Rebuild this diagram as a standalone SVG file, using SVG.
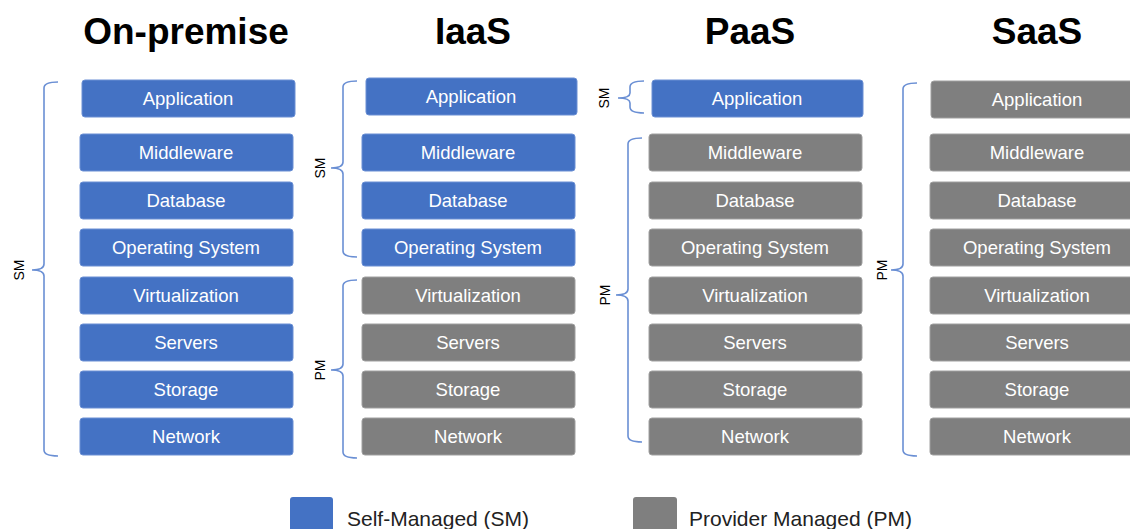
<svg xmlns="http://www.w3.org/2000/svg" width="1130" height="529" viewBox="0 0 1130 529">
<style>
.title{font-family:"Liberation Sans",Arial,sans-serif;font-weight:bold;font-size:37px;fill:#000;text-anchor:middle}
.sm rect{fill:#4472C4;stroke:#6A8FD4;stroke-width:1}
.pm rect{fill:#7F7F7F;stroke:#A0A0A0;stroke-width:1}
.lbl{font-family:"Liberation Sans",Arial,sans-serif;font-size:18.5px;fill:#fff;text-anchor:middle}
.brace{fill:none;stroke:#6A8FD4;stroke-width:1.6}
.blab{font-family:"Liberation Sans",Arial,sans-serif;font-size:14px;fill:#000;text-anchor:middle}
.leg{font-family:"Liberation Sans",Arial,sans-serif;font-size:21px;fill:#222}
</style>
<rect width="1130" height="529" fill="#fff"/>
<g id="titles">
<text class="title" x="186" y="44">On-premise</text>
<text class="title" x="473" y="44">IaaS</text>
<text class="title" x="750" y="44">PaaS</text>
<text class="title" x="1037" y="44">SaaS</text>
</g>
<g id="onprem">
<g id="op-app" class="sm"><rect x="82" y="80" width="213" height="37" rx="3"/><text class="lbl" x="188" y="105">Application</text></g>
<g id="op-mid" class="sm"><rect x="80" y="134" width="213" height="37" rx="3"/><text class="lbl" x="186" y="159">Middleware</text></g>
<g id="op-db" class="sm"><rect x="80" y="182" width="213" height="37" rx="3"/><text class="lbl" x="186" y="207">Database</text></g>
<g id="op-os" class="sm"><rect x="80" y="229" width="213" height="37" rx="3"/><text class="lbl" x="186" y="254">Operating System</text></g>
<g id="op-virt" class="sm"><rect x="80" y="277" width="213" height="37" rx="3"/><text class="lbl" x="186" y="302">Virtualization</text></g>
<g id="op-srv" class="sm"><rect x="80" y="324" width="213" height="37" rx="3"/><text class="lbl" x="186" y="349">Servers</text></g>
<g id="op-sto" class="sm"><rect x="80" y="371" width="213" height="37" rx="3"/><text class="lbl" x="186" y="396">Storage</text></g>
<g id="op-net" class="sm"><rect x="80" y="418" width="213" height="37" rx="3"/><text class="lbl" x="186" y="443">Network</text></g>
</g>
<g id="iaas">
<g id="ia-app" class="sm"><rect x="366" y="78" width="211" height="37" rx="3"/><text class="lbl" x="471" y="103">Application</text></g>
<g id="ia-mid" class="sm"><rect x="362" y="134" width="213" height="37" rx="3"/><text class="lbl" x="468" y="159">Middleware</text></g>
<g id="ia-db" class="sm"><rect x="362" y="182" width="213" height="37" rx="3"/><text class="lbl" x="468" y="207">Database</text></g>
<g id="ia-os" class="sm"><rect x="362" y="229" width="213" height="37" rx="3"/><text class="lbl" x="468" y="254">Operating System</text></g>
<g id="ia-virt" class="pm"><rect x="362" y="277" width="213" height="37" rx="3"/><text class="lbl" x="468" y="302">Virtualization</text></g>
<g id="ia-srv" class="pm"><rect x="362" y="324" width="213" height="37" rx="3"/><text class="lbl" x="468" y="349">Servers</text></g>
<g id="ia-sto" class="pm"><rect x="362" y="371" width="213" height="37" rx="3"/><text class="lbl" x="468" y="396">Storage</text></g>
<g id="ia-net" class="pm"><rect x="362" y="418" width="213" height="37" rx="3"/><text class="lbl" x="468" y="443">Network</text></g>
</g>
<g id="paas">
<g id="pa-app" class="sm"><rect x="652" y="80" width="211" height="37" rx="3"/><text class="lbl" x="757" y="105">Application</text></g>
<g id="pa-mid" class="pm"><rect x="649" y="134" width="213" height="37" rx="3"/><text class="lbl" x="755" y="159">Middleware</text></g>
<g id="pa-db" class="pm"><rect x="649" y="182" width="213" height="37" rx="3"/><text class="lbl" x="755" y="207">Database</text></g>
<g id="pa-os" class="pm"><rect x="649" y="229" width="213" height="37" rx="3"/><text class="lbl" x="755" y="254">Operating System</text></g>
<g id="pa-virt" class="pm"><rect x="649" y="277" width="213" height="37" rx="3"/><text class="lbl" x="755" y="302">Virtualization</text></g>
<g id="pa-srv" class="pm"><rect x="649" y="324" width="213" height="37" rx="3"/><text class="lbl" x="755" y="349">Servers</text></g>
<g id="pa-sto" class="pm"><rect x="649" y="371" width="213" height="37" rx="3"/><text class="lbl" x="755" y="396">Storage</text></g>
<g id="pa-net" class="pm"><rect x="649" y="418" width="213" height="37" rx="3"/><text class="lbl" x="755" y="443">Network</text></g>
</g>
<g id="saas">
<g id="sa-app" class="pm"><rect x="931" y="81" width="213" height="37" rx="3"/><text class="lbl" x="1037" y="106">Application</text></g>
<g id="sa-mid" class="pm"><rect x="930" y="134" width="213" height="37" rx="3"/><text class="lbl" x="1037" y="159">Middleware</text></g>
<g id="sa-db" class="pm"><rect x="930" y="182" width="213" height="37" rx="3"/><text class="lbl" x="1037" y="207">Database</text></g>
<g id="sa-os" class="pm"><rect x="930" y="229" width="213" height="37" rx="3"/><text class="lbl" x="1037" y="254">Operating System</text></g>
<g id="sa-virt" class="pm"><rect x="930" y="277" width="213" height="37" rx="3"/><text class="lbl" x="1037" y="302">Virtualization</text></g>
<g id="sa-srv" class="pm"><rect x="930" y="324" width="213" height="37" rx="3"/><text class="lbl" x="1037" y="349">Servers</text></g>
<g id="sa-sto" class="pm"><rect x="930" y="371" width="213" height="37" rx="3"/><text class="lbl" x="1037" y="396">Storage</text></g>
<g id="sa-net" class="pm"><rect x="930" y="418" width="213" height="37" rx="3"/><text class="lbl" x="1037" y="443">Network</text></g>
</g>
<g id="braces">
<path class="brace" d="M58,82 Q44,82 44,88 L44,264 Q44,270 32,270 Q44,270 44,276 L44,450 Q44,456 58,456"/>
<text class="blab" transform="translate(24,270) rotate(-90)">SM</text>
<path class="brace" d="M357,81 Q343,81 343,87 L343,162 Q343,168 331,168 Q343,168 343,174 L343,251 Q343,257 357,257"/>
<text class="blab" transform="translate(325,168) rotate(-90)">SM</text>
<path class="brace" d="M357,280 Q343,280 343,286 L343,364 Q343,370 331,370 Q343,370 343,376 L343,452 Q343,458 357,458"/>
<text class="blab" transform="translate(325,370) rotate(-90)">PM</text>
<path class="brace" d="M644,81 Q630,81 630,87 L630,93 Q630,98 618,98 Q630,98 630,103 L630,107 Q630,113 644,113"/>
<text class="blab" transform="translate(609,98) rotate(-90)">SM</text>
<path class="brace" d="M642,138 Q628,138 628,144 L628,289 Q628,295 616,295 Q628,295 628,301 L628,436 Q628,442 642,442"/>
<text class="blab" transform="translate(610,295) rotate(-90)">PM</text>
<path class="brace" d="M917,83 Q903,83 903,89 L903,264 Q903,270 891,270 Q903,270 903,276 L903,450 Q903,456 917,456"/>
<text class="blab" transform="translate(887,270) rotate(-90)">PM</text>
</g>
<g id="legend">
<rect x="290" y="497" width="43" height="40" rx="3" fill="#4472C4"/>
<text class="leg" x="347" y="526">Self-Managed (SM)</text>
<rect x="633" y="497" width="44" height="40" rx="3" fill="#7F7F7F"/>
<text class="leg" x="689" y="526">Provider Managed (PM)</text>
</g>
</svg>
